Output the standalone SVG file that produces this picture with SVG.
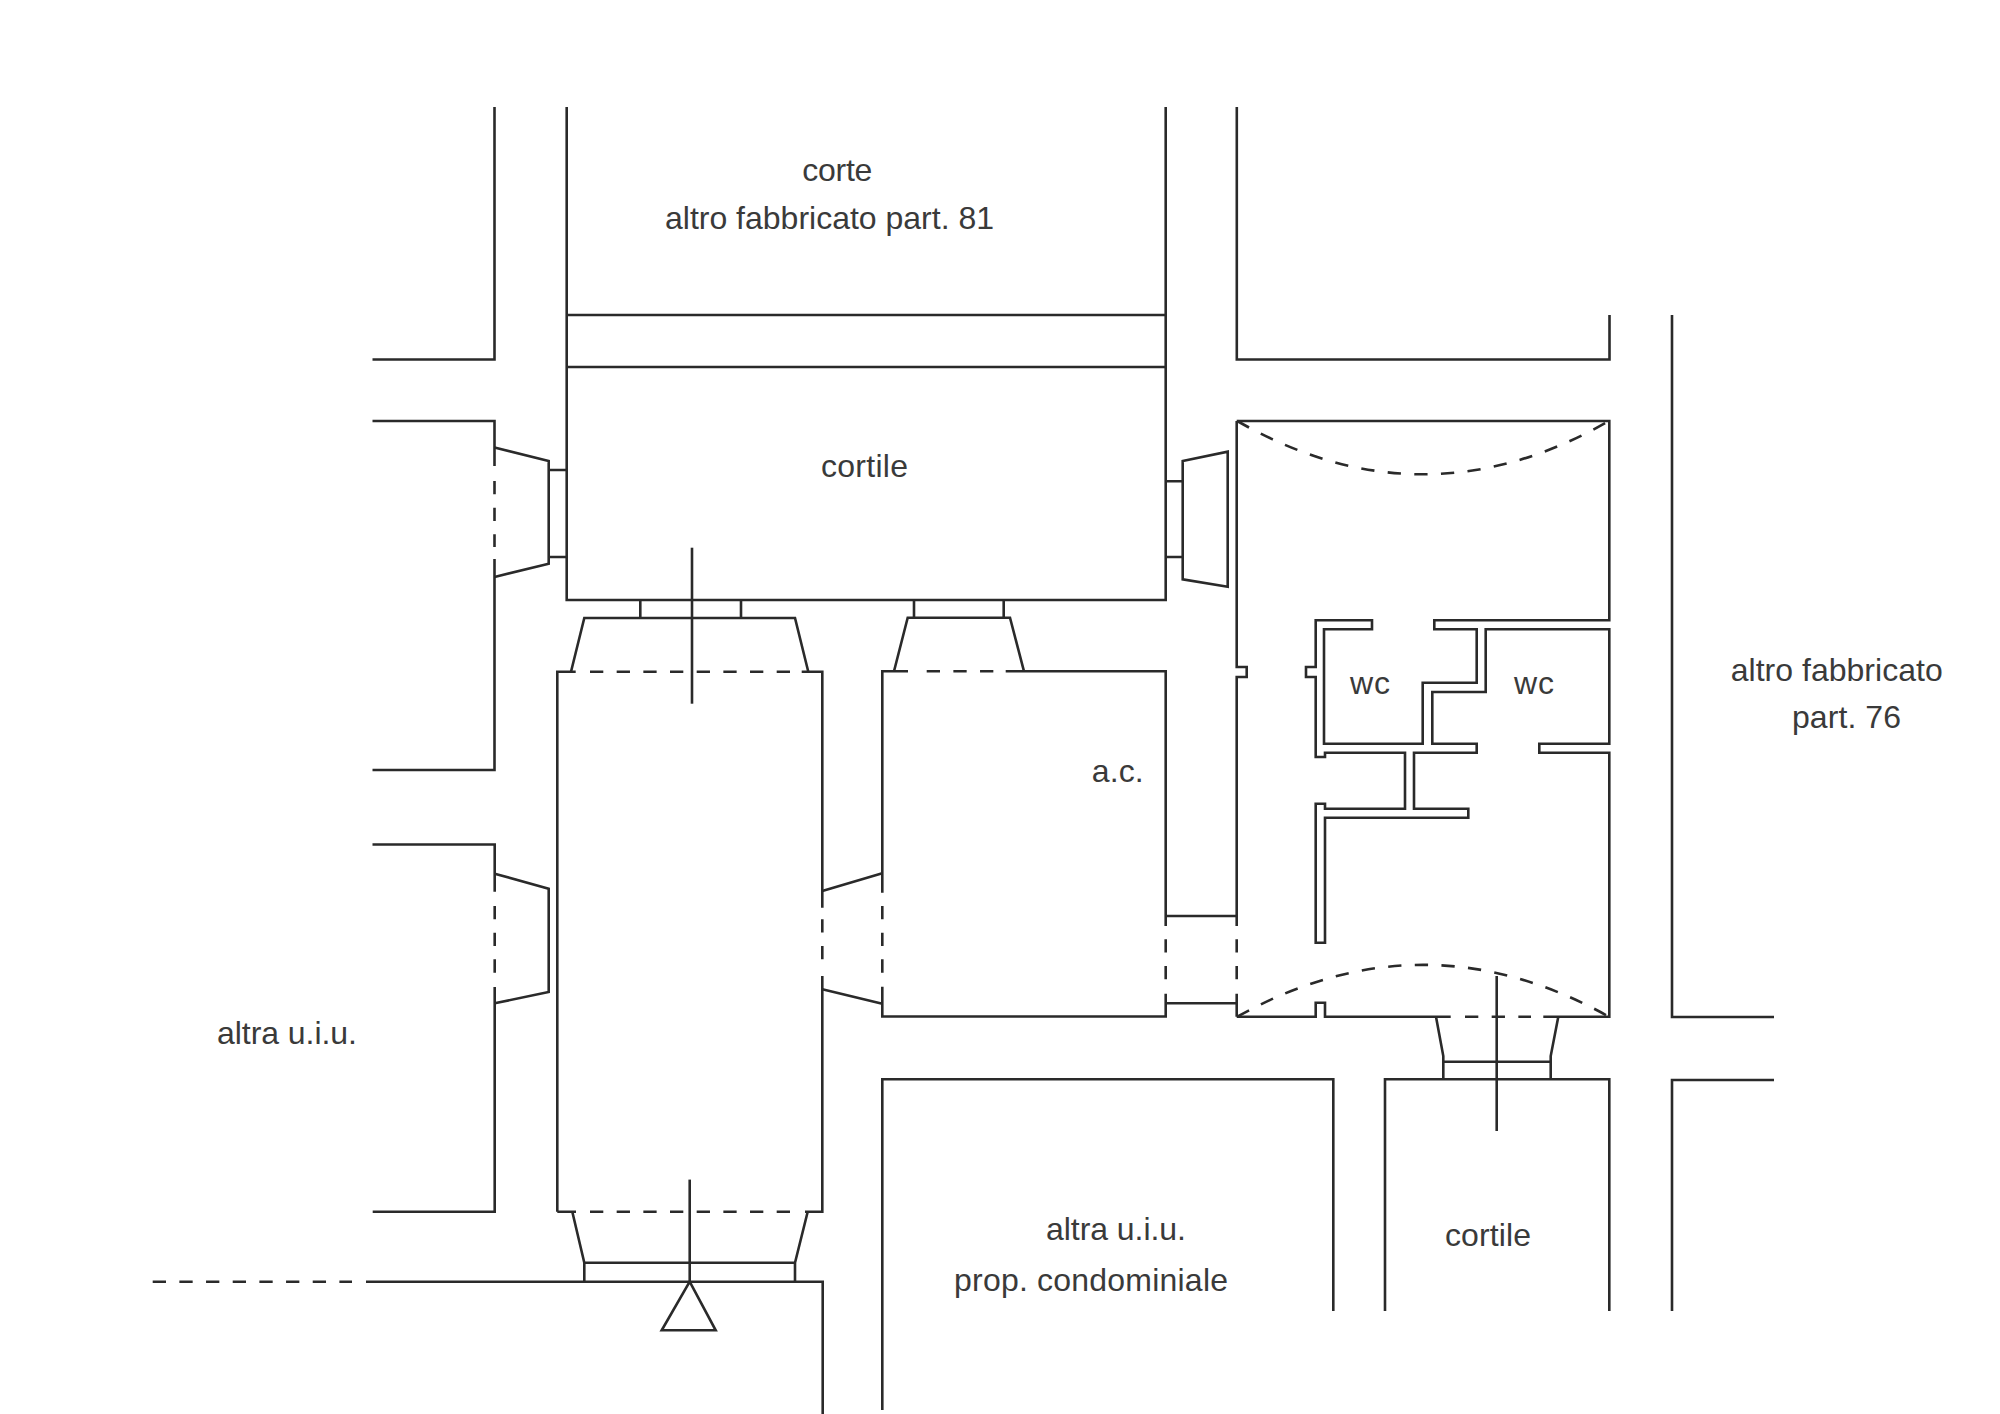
<svg xmlns="http://www.w3.org/2000/svg" width="2000" height="1414" viewBox="0 0 2000 1414">
<style>
path{fill:none;stroke:#2a2a2a;stroke-width:2.6}
.d{stroke-dasharray:13.3 13.37}
text{font-family:"Liberation Sans",Arial,sans-serif;font-size:32px;fill:#3a3a3a}
</style>
<rect width="2000" height="1414" fill="#ffffff"/>
<g transform="translate(0 1)">
<g id="walls">
<path d="M494.5 106V358.5H372.5"/>
<path d="M566.7 106V599H1165.7V106M566.7 314H1165.7M566.7 366H1165.7"/>
<path d="M1236.8 106V358.5H1609.5V314"/>
<path d="M1672 314V1016H1774M1774 1079H1672V1310"/>
<path d="M372.5 420H494.5V465M494.5 558V769H372.5"/>
<path d="M372.5 843.5H494.7V890.7M494.7 986V1210.7H372.7"/>
<path d="M557.3 1210.7V670.7H575.7M801.7 670.7H822.3V906.7M822.3 975V1210.7H805M557.3 1210.7H576"/>
<path d="M366 1280.7H822.7V1414"/>
<path d="M908 670.3H882.3V891.7M882.3 985.7V1015.5H1165.7V992.7M1005.7 670.3H1165.7V925"/>
<path d="M1236.7 420V666H1246.7V676H1236.7V925M1236.7 992.7V1015.7"/>
<path d="M1236.7 420H1609.3V619.3H1434.3V628.3H1476.7V681.7H1422.7V742.7H1324V628.3H1372V619.3H1315.7V666H1306V676H1315.7V756H1325V751.7H1405V807.7H1325V802.7H1315.7V941.7H1325V816.7H1468.3V807.7H1414V751.7H1476.7V742.7H1432.3V691H1485.7V628.3H1609.3V742.7H1539.3V751.7H1609.3V1015.7H1543.3"/>
<path d="M1236.7 1015.7H1315.7V1001.7H1325V1015.7H1450.7"/>
<path d="M882.3 1409V1078.3H1333.3V1310M1385 1310V1078.3H1609.3V1310"/>
</g>
<g id="openings">
<path d="M494.5 446.5L548.7 460V562.7L494.5 576M548.7 469H566.7M548.7 556H566.7"/>
<path d="M494.7 872.7L548.7 887.7V991L494.7 1002.3"/>
<path d="M571 670.7L584.3 617H795L808.3 670.7M640.3 599V617M741 599V617"/>
<path d="M572.3 1210.7L584.3 1261.7H795L807.7 1210.7M584.3 1261.7V1280.7M795 1261.7V1280.7"/>
<path d="M894 670.3L907.7 616.7H1010L1024 670.3M914 599V616.7M1003.7 599V616.7"/>
<path d="M822.3 890L882.3 872.3M822.3 988.3L882.3 1002.7"/>
<path d="M1165.7 915H1236.7M1165.7 1002.3H1236.7"/>
<path d="M1165.7 480.3H1182.7M1165.7 556H1182.7M1182.7 460L1227.7 450.7V585.7L1182.7 578.3Z"/>
<path d="M1436 1015.7L1443.3 1055V1078.3M1558.3 1015.7L1550.7 1055V1078.3M1443.3 1060.7H1550.7"/>
</g>
<g id="dashed">
<path class="d" d="M494.5 480V546"/>
<path class="d" d="M494.7 905V973"/>
<path class="d" d="M590 670.7H790"/>
<path class="d" d="M590 1210.7H790"/>
<path class="d" d="M926.7 670.3H1000"/>
<path class="d" d="M882.3 905V972"/>
<path class="d" d="M822.3 918.3V960"/>
<path class="d" d="M1165.7 938.3V979"/>
<path class="d" d="M1236.7 938.3V979"/>
<path class="d" d="M1465 1015.7H1531"/>
<path class="d" d="M152.7 1280.7H352"/>
<path class="d" d="M1237.3 420Q1423 526.6 1609 420"/>
<path class="d" d="M1237.3 1015.7Q1423 912 1609 1015.7"/>
</g>
<g id="section-marks">
<path d="M692 546.7V702.7"/>
<path d="M1496.7 975V1130"/>
<path d="M689.7 1178.6V1280.7"/>
<path d="M689.7 1280.7L661.7 1329.3H715.7Z"/>
</g>
</g>
<g id="labels">
<text x="802.3" y="180.7" textLength="70">corte</text>
<text x="665" y="228.5" textLength="329">altro fabbricato part. 81</text>
<text x="821" y="477" textLength="87">cortile</text>
<text x="1091.7" y="782" textLength="52">a.c.</text>
<text x="1350" y="694.3" textLength="40">wc</text>
<text x="1514" y="694.3" textLength="40">wc</text>
<text x="1730.7" y="680.7" textLength="212">altro fabbricato</text>
<text x="1792" y="728" textLength="109">part. 76</text>
<text x="217" y="1044" textLength="140">altra u.i.u.</text>
<text x="1046" y="1240" textLength="140">altra u.i.u.</text>
<text x="954" y="1291" textLength="274">prop. condominiale</text>
<text x="1445" y="1246" textLength="86">cortile</text>
</g>
</svg>
